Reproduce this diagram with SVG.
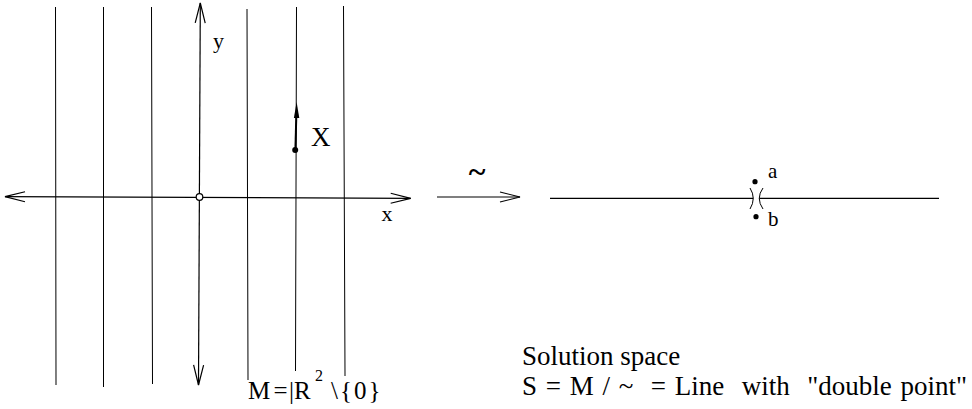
<svg xmlns="http://www.w3.org/2000/svg" width="972" height="409" viewBox="0 0 972 409">
<style>
  .ln { stroke: #000; stroke-width: 1; fill: none; }
  .ax { stroke: #000; stroke-width: 1.2; fill: none; }
  .t { font-family: "Liberation Serif", "Times New Roman", serif; fill: #000; }
</style>
<defs>
  <marker id="open" markerUnits="userSpaceOnUse" markerWidth="22" markerHeight="12" refX="20" refY="5" orient="auto-start-reverse" viewBox="-1 -1 22 12">
    <path d="M0,0 L20,5 L0,10" fill="none" stroke="#000" stroke-width="1.2"/>
  </marker>
</defs>
<rect width="972" height="409" fill="#fff"/>
<g id="connectors">
  <g id="solution-lines">
    <line class="ln" x1="55.5" y1="7" x2="56" y2="385"/>
    <line class="ln" x1="103.5" y1="7" x2="103.5" y2="387"/>
    <line class="ln" x1="151.5" y1="7" x2="152.5" y2="384"/>
    <line class="ln" x1="247" y1="9" x2="248" y2="380"/>
    <line class="ln" x1="296.5" y1="7" x2="295.5" y2="371"/>
    <line class="ln" x1="343.5" y1="6" x2="345" y2="376"/>
  </g>
  <line id="x-axis" class="ax" x1="5" y1="196.7" x2="410.7" y2="198.3" marker-start="url(#open)" marker-end="url(#open)"/>
  <line id="y-axis" class="ax" x1="198.5" y1="385" x2="200.3" y2="3" marker-start="url(#open)" marker-end="url(#open)"/>
  <g id="vector-X">
    <line x1="295.4" y1="150" x2="296.3" y2="116" stroke="#000" stroke-width="2"/>
    <polygon points="296.6,102 299.3,118 293.9,118" fill="#000"/>
  </g>
  <line id="quotient-arrow" class="ax" x1="437" y1="197" x2="520" y2="197" marker-end="url(#open)"/>
  <line class="ax" x1="550" y1="198.3" x2="753.3" y2="198.3"/>
  <line class="ax" x1="759.2" y1="198.3" x2="939" y2="198.3"/>
  <path class="ln" d="M750,188 Q756.5,198.3 750,209"/>
  <path class="ln" d="M763,188 Q755.5,198.3 763,209"/>
</g>
<g id="origin"><circle cx="199.5" cy="197" r="3.3" fill="#fff" stroke="#000" stroke-width="1.2"/></g>
<g id="point-X"><circle cx="295.2" cy="150" r="3" fill="#000"/></g>
<g id="point-a"><circle cx="755" cy="181.7" r="2.6" fill="#000"/></g>
<g id="point-b"><circle cx="756" cy="216.7" r="2.6" fill="#000"/></g>
<g id="labels">
  <text class="t" x="213" y="48" font-size="22">y</text>
  <text class="t" x="381.5" y="221" font-size="22">x</text>
  <text class="t" x="311" y="146" font-size="27">X</text>
  <text class="t" x="477" y="182" font-size="32" font-weight="bold" text-anchor="middle">~</text>
  <text class="t" x="768" y="178" font-size="21">a</text>
  <text class="t" x="768" y="226" font-size="21">b</text>
  <text class="t" y="398.5" font-size="25"><tspan x="248">M</tspan><tspan x="273.5">=</tspan><tspan x="289">|</tspan><tspan x="294">R</tspan><tspan x="315" y="381" font-size="16">2</tspan><tspan x="331" y="398.5" letter-spacing="2">\{0}</tspan></text>
  <text class="t" x="522" y="365" font-size="27" style="white-space:pre">Solution space</text>
  <text class="t" x="522" y="395" font-size="27" style="white-space:pre" word-spacing="2">S = M / ~  = Line  with  "double point"</text>
</g>
</svg>
